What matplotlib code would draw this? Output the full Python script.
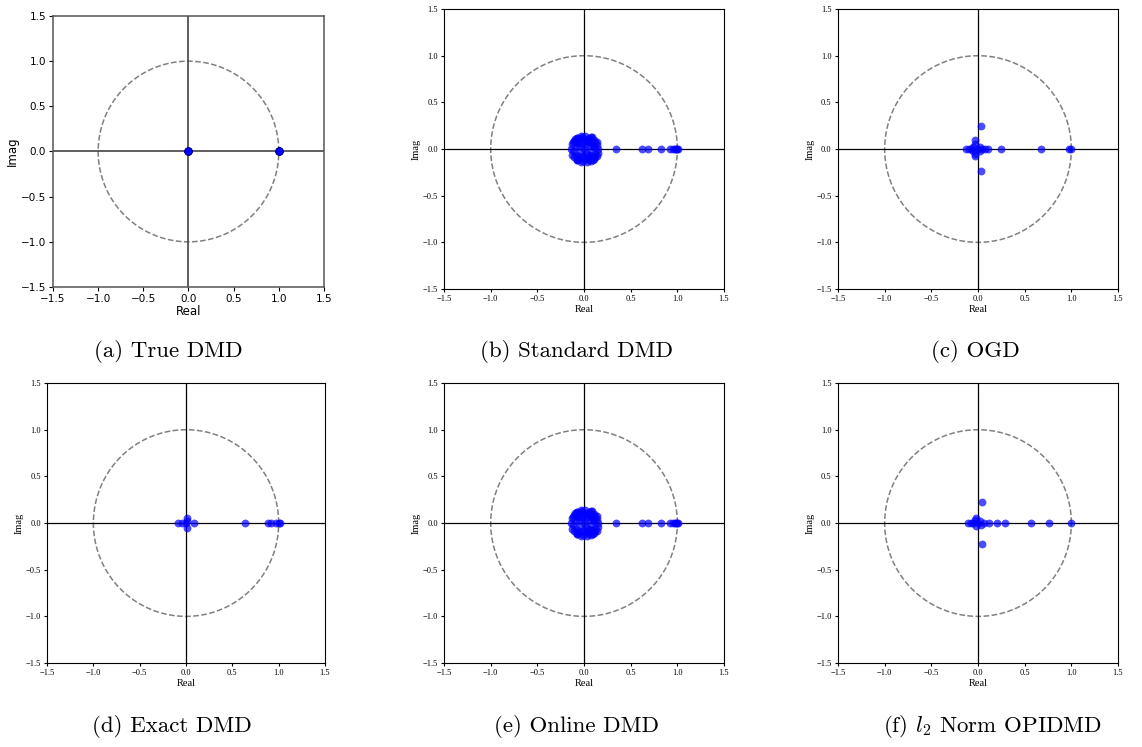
import matplotlib
matplotlib.use("Agg")
import matplotlib.pyplot as plt
import numpy as np

plt.rcParams['mathtext.fontset'] = 'cm'

# Eigenvalue data (real, imag)
true_re = [0.0, 0.0, 0.0, 1.0, 1.0, 1.0]
true_im = [0.0, 0.0, 0.0, 0.0, 0.0, 0.0]

# dense cluster near the origin (Standard / Online DMD)
cluster_re = [-0.14, -0.13, -0.13, -0.11, -0.11, -0.09, -0.08, -0.07, -0.05, -0.04,
              -0.02, -0.01, 0.00, 0.01, 0.03, 0.04, 0.05, 0.07, 0.08, 0.09,
              0.10, 0.11, 0.12, 0.14, 0.15, 0.15, -0.12, -0.09, -0.07, -0.05,
              -0.02, 0.00, 0.03, 0.05, 0.07, 0.10, 0.12, -0.12, -0.09, -0.07,
              -0.05, -0.02, 0.01, 0.03, 0.05, 0.07, 0.10, 0.12, -0.08, -0.03,
              0.01, 0.06, 0.11, -0.08, -0.03, 0.02, 0.06, 0.11, 0.14, 0.14,
              -0.10, -0.05, 0.00, 0.05, 0.09]
cluster_im = [0.00, 0.05, -0.06, 0.09, -0.09, 0.02, 0.12, -0.12, 0.06, -0.03,
              0.13, -0.13, 0.00, 0.14, -0.14, 0.10, -0.10, 0.13, -0.13, 0.07,
              -0.07, 0.10, -0.09, 0.04, -0.04, 0.00, 0.07, -0.06, 0.08, -0.08,
              0.06, -0.07, 0.07, -0.06, 0.03, 0.04, -0.05, -0.02, 0.10, -0.11,
              0.11, -0.10, 0.09, -0.10, 0.12, -0.02, -0.12, 0.08, 0.12, -0.14,
              0.03, -0.08, -0.11, -0.12, 0.14, -0.04, 0.08, 0.02, 0.08, -0.08,
              0.11, 0.03, 0.11, -0.12, 0.13]

std_re = cluster_re + [0.34, 0.62, 0.69, 0.83, 0.92, 0.95, 0.97, 0.99, 1.00, 1.01]
std_im = cluster_im + [0.0] * 10

ogd_re = [-0.13, -0.10, -0.07, -0.05, -0.05, -0.03, -0.03, -0.03, -0.03, 0.00,
          0.02, 0.02, 0.04, 0.075, 0.11, 0.25, 0.67, 0.97, 1.00, 0.03, 0.03]
ogd_im = [0.00, 0.00, 0.00, 0.02, -0.02, 0.05, -0.05, 0.10, -0.08, 0.00,
          0.02, -0.02, 0.00, 0.00, 0.00, 0.00, 0.00, 0.00, 0.00, 0.25, -0.24]

exact_re = [-0.09, -0.04, 0.00, 0.01, 0.01, 0.01, 0.09, 0.64, 0.89, 0.92, 0.97, 1.00, 1.01]
exact_im = [0.00, 0.00, 0.00, 0.05, -0.05, 0.02, 0.00, 0.00, 0.00, 0.00, 0.00, 0.00, 0.00]

online_re = std_re
online_im = std_im

l2_re = [-0.11, -0.08, -0.05, -0.03, -0.02, -0.02, 0.00, 0.02, 0.03, 0.068,
         0.12, 0.20, 0.29, 0.57, 0.76, 1.00, 0.04, 0.04]
l2_im = [0.00, 0.00, 0.00, 0.03, -0.03, 0.05, 0.00, 0.02, -0.02, 0.00,
         0.00, 0.00, 0.00, 0.00, 0.00, 0.00, 0.225, -0.225]

captions = ["(a) True DMD", "(b) Standard DMD", "(c) OGD",
            "(d) Exact DMD", "(e) Online DMD", r"(f) $l_2$ Norm OPIDMD"]

fig = plt.figure(figsize=(11.42, 7.47), dpi=100)

# axes boxes in figure fractions
boxes = [[0.0464, 0.6158, 0.2373, 0.3628],
         [0.3888, 0.6131, 0.2452, 0.3748],
         [0.7338, 0.6131, 0.2452, 0.3748],
         [0.0412, 0.1124, 0.2434, 0.3748],
         [0.3888, 0.1124, 0.2452, 0.3748],
         [0.7338, 0.1124, 0.2452, 0.3748]]

data = [(true_re, true_im), (std_re, std_im), (ogd_re, ogd_im),
        (exact_re, exact_im), (online_re, online_im), (l2_re, l2_im)]

ticks = [-1.5, -1.0, -0.5, 0.0, 0.5, 1.0, 1.5]
theta = np.linspace(0, 2 * np.pi, 400)

for i, (box, (re, im)) in enumerate(zip(boxes, data)):
    ax = fig.add_axes(box)
    ax.plot(np.cos(theta), np.sin(theta), ls='--', color='gray', lw=1.1)
    if i == 0:
        ax.axhline(0, color='#444444', lw=1.2)
        ax.axvline(0, color='#444444', lw=1.2)
        ax.scatter(re, im, s=30, color='blue', edgecolors='#000080', linewidths=0.5, zorder=3)
        font = dict(family='DejaVu Sans', size=7.5)
        lab = dict(family='DejaVu Sans', size=8.5)
        for sp in ax.spines.values():
            sp.set_color('#555555')
            sp.set_linewidth(1.1)
    else:
        ax.axhline(0, color='black', lw=0.9)
        ax.axvline(0, color='black', lw=0.9)
        ax.scatter(re, im, s=32, color='blue', alpha=0.7, linewidths=0, zorder=3)
        font = dict(family='Liberation Serif', size=6)
        lab = dict(family='Liberation Serif', size=7.5)
    ax.set_xlim(-1.5, 1.5)
    ax.set_ylim(-1.5, 1.5)
    ax.set_xticks(ticks)
    ax.set_yticks(ticks)
    ax.set_xticklabels([f"{t:.1f}".replace('-', '\u2212') for t in ticks], fontdict=font)
    ax.set_yticklabels([f"{t:.1f}".replace('-', '\u2212') for t in ticks], fontdict=font)
    ax.tick_params(length=3 if i == 0 else 2.5, width=0.8, pad=2)
    ax.set_xlabel("Real", fontdict=lab, labelpad=1)
    ax.set_ylabel("Imag", fontdict=lab, labelpad=1)

# sub-figure captions
cap_x = [168, 577, 975, 172, 577, 993]
cap_y = [351, 351, 351, 726, 726, 726]
for c, x, y in zip(captions, cap_x, cap_y):
    fig.text(x / 1142, 1 - y / 747, c, family='cmr10', size=16.5,
             ha='center', va='center')

fig.savefig("out.png", dpi=100)
